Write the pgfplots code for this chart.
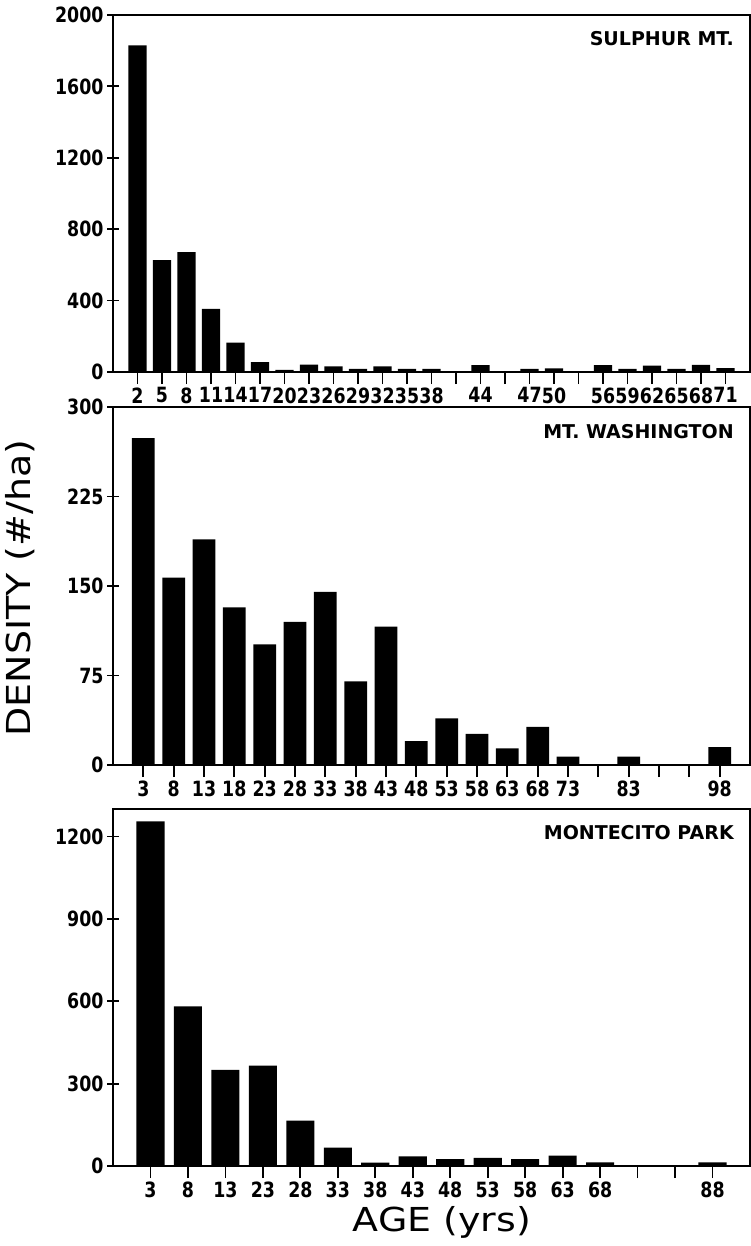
\documentclass[border=0pt]{standalone}
\usepackage{fontspec}
\setmainfont{DejaVu Sans}
\newfontfamily\tickfont[FakeStretch=0.92]{DejaVu Sans Condensed}
\newfontfamily\titlefont{DejaVu Sans}
\newfontfamily\labelfont[FakeStretch=1.15]{DejaVu Sans}
\usepackage{pgfplots}
\pgfplotsset{compat=1.18}
\tikzset{ptitle/.style={anchor=east, font=\titlefont\bfseries\fontsize{19}{22}\selectfont}}
\begin{document}
\begin{tikzpicture}
\useasboundingbox (0pt,0pt) rectangle (751pt,-1246pt);
\pgfplotsset{
  panel/.style={
    scale only axis, width=637pt,
    xmin=-1, ymin=0,
    axis line style={line width=1.8pt},
    every tick/.style={line width=1.8pt, black},
    major tick length=12pt,
    tick align=center,
    tick pos=left,
    ybar, bar width=0.75,
    ticklabel style={font=\tickfont\bfseries\fontsize{21}{24}\selectfont},
    /pgf/number format/assume math mode=true,
    /pgf/number format/1000 sep={},
    enlargelimits=false,
  },
}
% ---------- Sulphur Mt.
\begin{axis}[panel, at={(113pt,-15pt)}, anchor=north west, height=357pt,
  xmax=25, ymax=2000, ytick={0,400,...,2000},
  xtick={0,...,24},
  xticklabels={2,5,8,11,14,17,20,23,26,29,32,35,38,{},44,{},47,50,{},56,59,62,65,68,71}]
\addplot[fill=black, draw=none] coordinates {
 (0,1830) (1,627) (2,672) (3,353) (4,164) (5,56) (6,12) (7,42) (8,32) (9,18)
 (10,32) (11,18) (12,18) (14,38) (16,18) (17,20) (19,38) (20,18) (21,36)
 (22,18) (23,40) (24,22)};
\node[ptitle] at (rel axis cs:0.98,0.935) {SULPHUR MT.};
\end{axis}
% ---------- Mt. Washington
\begin{axis}[panel, at={(113pt,-407pt)}, anchor=north west, height=358pt,
  xmax=20, ymax=300, ytick={0,75,...,300},
  xtick={0,...,19},
  xticklabels={3,8,13,18,23,28,33,38,43,48,53,58,63,68,73,{},83,{},{},98}]
\addplot[fill=black, draw=none] coordinates {
 (0,274) (1,157) (2,189) (3,132) (4,101) (5,120) (6,145) (7,70) (8,116) (9,20)
 (10,39) (11,26) (12,14) (13,32) (14,7) (16,7) (19,15)};
\node[ptitle] at (rel axis cs:0.98,0.93) {MT. WASHINGTON};
\end{axis}
% ---------- Montecito Park
\begin{axis}[panel, at={(113pt,-809pt)}, anchor=north west, height=357pt,
  xmax=16, ymax=1300, ytick={0,300,...,1200},
  xtick={0,...,15},
  xticklabels={3,8,13,23,28,33,38,43,48,53,58,63,68,{},{},88}]
\addplot[fill=black, draw=none] coordinates {
 (0,1255) (1,581) (2,350) (3,366) (4,165) (5,67) (6,12) (7,35) (8,25) (9,30)
 (10,25) (11,38) (12,13) (15,13)};
\node[ptitle] at (rel axis cs:0.98,0.935) {MONTECITO PARK};
\end{axis}
\node[rotate=90, font=\labelfont\fontsize{33}{36}\selectfont] at (20pt,-588pt) {DENSITY (\#/ha)};
\node[font=\labelfont\fontsize{33}{36}\selectfont] at (442pt,-1222pt) {AGE (yrs)};
\end{tikzpicture}
\end{document}
